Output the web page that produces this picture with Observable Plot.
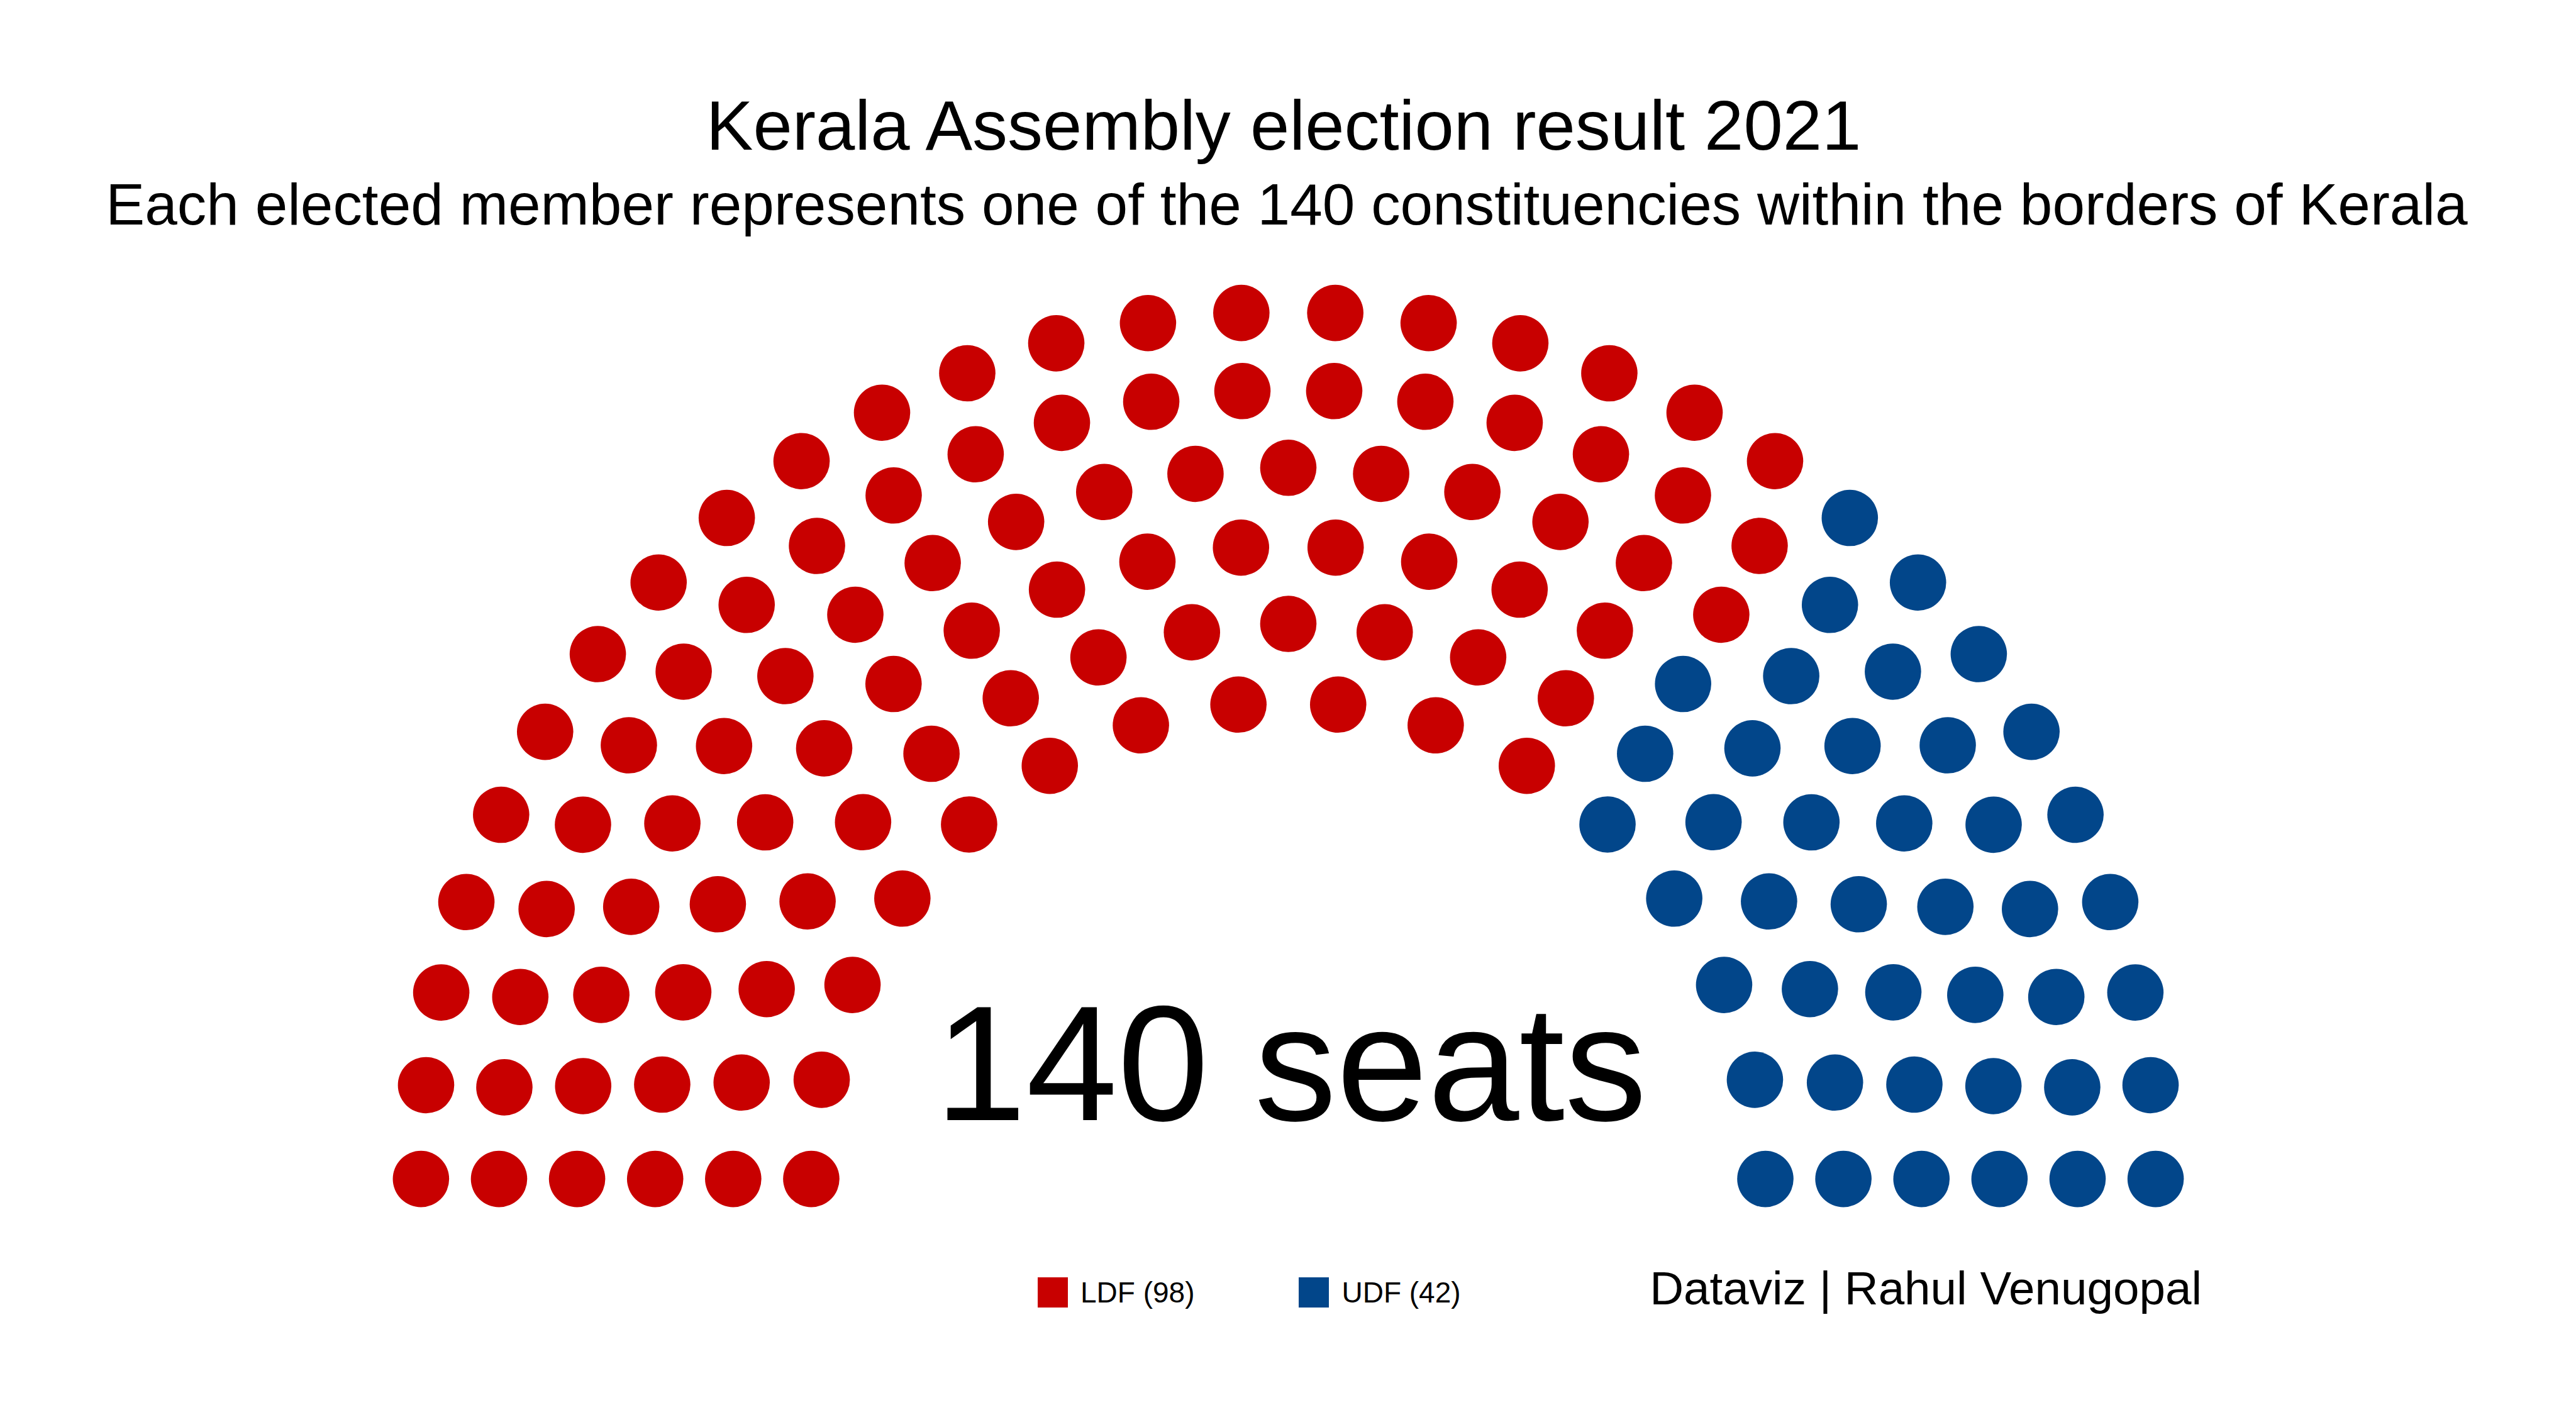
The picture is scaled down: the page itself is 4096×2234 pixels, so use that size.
<!DOCTYPE html>
<html>
<head>
<meta charset="utf-8">
<script src="https://cdn.jsdelivr.net/npm/d3@7"></script>
<script src="https://cdn.jsdelivr.net/npm/@observablehq/plot@0.6"></script>
<style>
html, body { margin: 0; padding: 0; background: #fff; }
#root { position: relative; width: 4096px; height: 2234px; overflow: hidden;
        font-family: "Liberation Sans", Arial, sans-serif; color: #000; background: #fff; }
.t { position: absolute; width: 4096px; text-align: center; line-height: 1; white-space: nowrap; }
#chart { position: absolute; left: 0; top: 0; }
#legend { position: absolute; left: 1650px; top: 2031px; display: flex; gap: 166px; align-items: center; }
.item { display: flex; align-items: center; gap: 20px; font-size: 46px; line-height: 1; white-space: nowrap; }
.key { width: 48px; height: 48px; }
#caption { position: absolute; right: 595px; top: 2011px; font-size: 74.6px; line-height: 1; white-space: nowrap; }
</style>
</head>
<body>
<div id="root">
  <div id="chart"></div>
  <div class="t" id="title" style="left:-7px;top:143.5px;font-size:112px;"></div>
  <div class="t" id="subtitle" style="left:-2px;top:279.3px;font-size:92.8px;"></div>
  <div id="legend"></div>
  <div id="caption"></div>
</div>
<script>
// ---- data ----
const titleText = "Kerala Assembly election result 2021";
const subtitleText = "Each elected member represents one of the 140 constituencies within the borders of Kerala";
const captionText = "Dataviz | Rahul Venugopal";
const parties = ["LDF", "UDF"];
const seats = [98, 42];
const partyColors = ["#C80000", "#02468A"];
// seats in each arc, innermost to outermost
const rowSeats = [16, 19, 22, 25, 28, 30];

// ---- semicircle parliament layout ----
function parliamentLayout(counts) {
  const rows = counts.length;
  const radii = d3.range(rows).map(i => 1.1 + i * (0.9 / (rows - 1)));
  const pts = [];
  radii.forEach((r, i) => {
    const c = counts[i];
    for (let k = 0; k < c; k++) {
      const th = Math.PI * k / (c - 1);
      pts.push({x: r * Math.cos(th), y: r * Math.sin(th), row: i, theta: th});
    }
  });
  pts.sort((a, b) => (b.theta - a.theta) || (b.row - a.row));
  const partyOf = parties.flatMap((p, i) => Array(seats[i]).fill(p));
  pts.forEach((d, i) => d.party = partyOf[i]);
  return pts;
}
const layout = parliamentLayout(rowSeats);

const plot = Plot.plot({
  width: 4096,
  height: 2234,
  margin: 0,
  style: {fontFamily: '"Liberation Sans", Arial, sans-serif', background: "transparent"},
  x: {domain: [-2.97, 2.97], axis: null},
  y: {domain: [-0.522, 2.718], axis: null},
  color: {domain: parties, range: partyColors},
  marks: [
    Plot.dot(layout, {x: "x", y: "y", r: 44.8, fill: "party"}),
    Plot.text([`${d3.sum(seats)} seats`], {x: 0, y: 0.1356, dx: 4, text: d => d, fontSize: 261, lineAnchor: "bottom", fill: "#000"})
  ]
});
document.getElementById("chart").appendChild(plot);

document.getElementById("title").textContent = titleText;
document.getElementById("subtitle").textContent = subtitleText;
document.getElementById("caption").textContent = captionText;
const legend = document.getElementById("legend");
parties.forEach((p, i) => {
  const item = document.createElement("div");
  item.className = "item";
  const key = document.createElement("div");
  key.className = "key";
  key.style.background = partyColors[i];
  const lab = document.createElement("span");
  lab.textContent = `${p} (${seats[i]})`;
  item.appendChild(key);
  item.appendChild(lab);
  legend.appendChild(item);
});
</script>
</body>
</html>
